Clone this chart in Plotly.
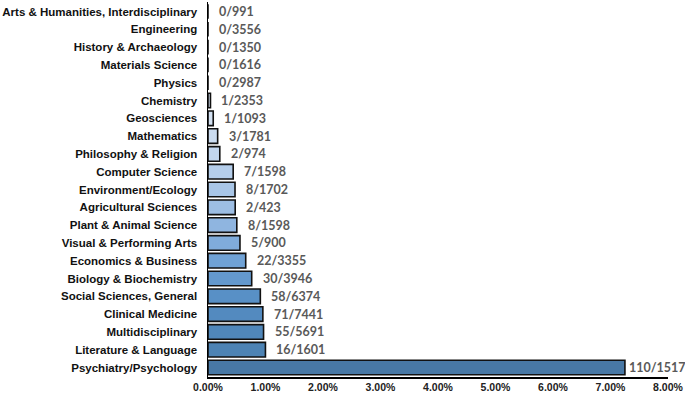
import plotly.graph_objects as go

categories = [
    "Arts & Humanities, Interdisciplinary", "Engineering", "History & Archaeology",
    "Materials Science", "Physics", "Chemistry", "Geosciences", "Mathematics",
    "Philosophy & Religion", "Computer Science", "Environment/Ecology",
    "Agricultural Sciences", "Plant & Animal Science", "Visual & Performing Arts",
    "Economics & Business", "Biology & Biochemistry", "Social Sciences, General",
    "Clinical Medicine", "Multidisciplinary", "Literature & Language",
    "Psychiatry/Psychology",
]
count_labels = [
    "0/991", "0/3556", "0/1350", "0/1616", "0/2987", "1/2353", "1/1093", "3/1781",
    "2/974", "7/1598", "8/1702", "2/423", "8/1598", "5/900", "22/3355", "30/3946",
    "58/6374", "71/7441", "55/5691", "16/1601", "110/1517",
]
# share of items, in percent
share_pct = [
    0.0, 0.0, 0.0, 0.0, 0.0, 0.043, 0.091, 0.168, 0.205, 0.438, 0.470, 0.473,
    0.501, 0.556, 0.656, 0.760, 0.910, 0.954, 0.966, 0.999, 7.251,
]

bar_colors = [
    "#e6eef8", "#e3ecf7", "#e0eaf6", "#dde8f5", "#dae6f4", "#d6e3f3", "#d3e1f2",
    "#cbdcf0", "#c2d6ee", "#b5ceeb", "#a9c6e7", "#9dbee4", "#8fb5e0", "#80acdb",
    "#70a2d5", "#6499ce", "#5890c6", "#538abf", "#5087ba", "#4d83b4", "#4878a5",
]

x_vals = [v / 100 for v in share_pct]

fig = go.Figure()
fig.add_trace(go.Bar(
    y=categories, x=x_vals, orientation="h",
    marker=dict(color=bar_colors, line=dict(color="#111111", width=1.6)),
    width=0.82, hoverinfo="skip",
))

for i, (c, v, lab) in enumerate(zip(categories, x_vals, count_labels)):
    fig.add_annotation(
        x=v, y=c, text=lab, showarrow=False, xanchor="left", yanchor="middle",
        xshift=2 if i == len(categories) - 1 else 9,
        font=dict(family="Lato", size=12.5, color="#595959", weight="bold"),
    )

fig.update_layout(
    width=685, height=394,
    margin=dict(l=208, r=17, t=2, b=17, autoexpand=False),
    plot_bgcolor="white", paper_bgcolor="white",
    showlegend=False,
    xaxis=dict(
        range=[0, 0.08], dtick=0.01, tick0=0, tickformat=".2%",
        showgrid=False, zeroline=False, showline=True, linecolor="#000000",
        linewidth=1.5, ticks="", automargin=False,
        tickfont=dict(family="Liberation Sans", size=10.5, color="#222222", weight="bold"),
    ),
    yaxis=dict(
        autorange="reversed", showgrid=False, zeroline=False, showline=True,
        linecolor="#000000", linewidth=1.5, ticks="", automargin=False,
        ticklabelstandoff=7,
        tickfont=dict(family="Liberation Sans", size=11.5, color="#111111", weight="bold"),
    ),
)

fig.write_html(
    "out.html",
    config={"displayModeBar": False, "staticPlot": True},
    post_script="document.body.style.margin='0';document.body.style.padding='0';",
)
